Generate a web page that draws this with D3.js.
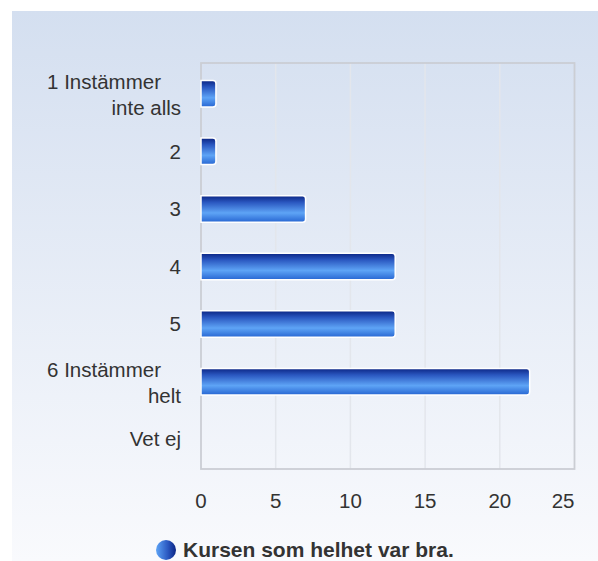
<!DOCTYPE html>
<html lang="sv">
<head>
<meta charset="utf-8">
<style>
  body { margin: 0; background: #fff; }
  text { font-family: "Liberation Sans", Arial, sans-serif; fill: #333; }
</style>
</head>
<body>
<script src="https://d3js.org/d3.v7.min.js"></script>
<script>
const categories = ["1 Instämmer\ninte alls", "2", "3", "4", "5", "6 Instämmer\nhelt", "Vet ej"];
const values = [1, 1, 7, 13, 13, 22, 0];
const xTicks = [0, 5, 10, 15, 20, 25];
const seriesName = "Kursen som helhet var bra.";

const W = 598, H = 561;
const m = { left: 201, top: 63, right: 574.5, bottom: 469 };

const svg = d3.select("body").append("svg")
    .attr("width", W).attr("height", H);

const defs = svg.append("defs");
const bg = defs.append("linearGradient").attr("id", "bg")
    .attr("x1", 0).attr("y1", 0).attr("x2", 0).attr("y2", 1);
bg.append("stop").attr("offset", "0%").attr("stop-color", "#d4dff0");
bg.append("stop").attr("offset", "100%").attr("stop-color", "#f9fafd");

const barGrad = defs.append("linearGradient").attr("id", "bar")
    .attr("x1", 0).attr("y1", 0).attr("x2", 0).attr("y2", 1);
barGrad.append("stop").attr("offset", "0%").attr("stop-color", "#0b2584");
barGrad.append("stop").attr("offset", "25%").attr("stop-color", "#2a57c0");
barGrad.append("stop").attr("offset", "65%").attr("stop-color", "#5ea4f6");
barGrad.append("stop").attr("offset", "100%").attr("stop-color", "#2766d2");

const dotGrad = defs.append("linearGradient").attr("id", "dot")
    .attr("x1", 0).attr("y1", 0).attr("x2", 1).attr("y2", 0);
dotGrad.append("stop").attr("offset", "0%").attr("stop-color", "#5ea4f6");
dotGrad.append("stop").attr("offset", "60%").attr("stop-color", "#2a57c0");
dotGrad.append("stop").attr("offset", "100%").attr("stop-color", "#0b2584");

svg.append("rect").attr("x", 12).attr("y", 11)
    .attr("width", W - 12).attr("height", H - 11)
    .attr("fill", "url(#bg)");

const x = d3.scaleLinear().domain([0, 25]).range([m.left, m.right]);
const y = d3.scaleBand().domain(categories).range([65, 468]).paddingInner(0.54).paddingOuter(0.27);

// grid
svg.append("g").selectAll("line")
    .data(xTicks.slice(1, -1))
    .enter().append("line")
    .attr("x1", d => x(d)).attr("x2", d => x(d))
    .attr("y1", m.top).attr("y2", m.bottom)
    .attr("stroke", "#e3e6ec").attr("stroke-width", 1.5);

// frame
svg.append("rect")
    .attr("x", m.left).attr("y", m.top)
    .attr("width", m.right - m.left).attr("height", m.bottom - m.top)
    .attr("fill", "none").attr("stroke", "#cbced4").attr("stroke-width", 1.8);

// bars
svg.append("g").selectAll("path")
    .data(values.map((v, i) => ({ c: categories[i], v: v })).filter(d => d.v > 0))
    .enter().append("path")
    .attr("d", d => {
        const x0 = x(0), x1 = x(d.v), y0 = y(d.c), h = y.bandwidth(), r = 3;
        return `M${x0},${y0}H${x1 - r}Q${x1},${y0} ${x1},${y0 + r}V${y0 + h - r}Q${x1},${y0 + h} ${x1 - r},${y0 + h}H${x0}Z`;
    })
    .attr("fill", "url(#bar)")
    .attr("stroke", "#fff").attr("stroke-width", 1.5);

// category labels
const lab = svg.append("g").selectAll("text")
    .data(categories)
    .enter().append("text")
    .attr("text-anchor", "end")
    .attr("font-size", 20.5);
lab.each(function (d) {
    const lines = d.split("\n");
    const cy = y(d) + y.bandwidth() / 2;
    const lh = 26;
    const start = cy - (lines.length - 1) * lh / 2;
    d3.select(this).selectAll("tspan").data(lines).enter().append("tspan")
        .attr("x", (l, i) => i < lines.length - 1 ? 161 : 181)
        .attr("y", (l, i) => start + i * lh + (lines.length > 1 ? 1 : 0))
        .attr("dy", "0.35em")
        .text(l => l);
});

// x tick labels
svg.append("g").selectAll("text")
    .data(xTicks)
    .enter().append("text")
    .attr("x", d => d === 25 ? m.right : x(d))
    .attr("y", 500.5)
    .attr("dy", "0.35em")
    .attr("text-anchor", d => d === 25 ? "end" : "middle")
    .attr("font-size", 20.5)
    .text(d => d);

// legend
const leg = svg.append("g");
leg.append("circle").attr("cx", 166).attr("cy", 550).attr("r", 10).attr("fill", "url(#dot)");
leg.append("text").attr("x", 183).attr("y", 550).attr("dy", "0.35em")
    .attr("font-size", 21).attr("font-weight", "bold")
    .text(seriesName);
</script>
</body>
</html>
